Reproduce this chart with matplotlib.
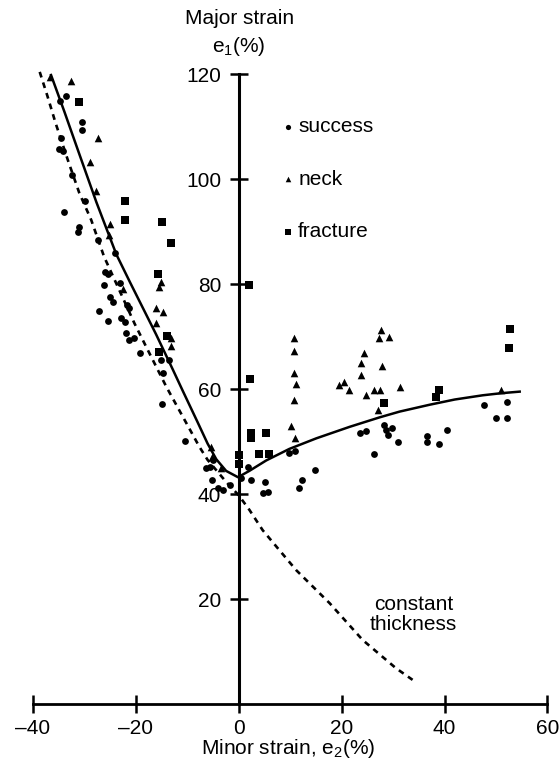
import matplotlib
matplotlib.use("Agg")
import matplotlib.pyplot as plt

plt.rcParams['font.family'] = ['Liberation Sans', 'DejaVu Sans']
plt.rcParams['mathtext.fontset'] = 'custom'
plt.rcParams['mathtext.rm'] = 'Liberation Sans'
plt.rcParams['mathtext.default'] = 'regular'

# ---- data (minor strain e2 %, major strain e1 %) ----
success_x = [-33.5, -34.6, -30.4, -30.4, -34.4, -34.9, -34.1, -32.4, -29.8, -33.8,
             -30.9, -31.2, -27.2, -23.9, -26.0, -25.4, -26.2, -23.1, -24.9, -24.3,
             -21.7, -21.2, -27.0, -25.4, -22.8, -22.1, -21.8, -21.2, -20.2, -19.2,
             -15.0, -13.4, -14.7, -14.9, -10.3, -5.0, -6.3, -5.6, -5.2, -4.0,
             -3.0, -1.7, 1.8, 0.5, 2.5, 5.2, 4.7, 5.7, 9.9, 10.9,
             14.8, 12.4, 11.8, 23.5, 24.8, 28.2, 28.7, 29.8, 29.0, 30.9,
             26.4, 36.6, 36.6, 39.0, 40.5, 47.6, 52.1, 50.0, 52.1]
success_y = [115.9, 114.9, 110.8, 109.3, 107.9, 105.8, 105.4, 100.8, 95.8, 93.8,
             90.9, 90.0, 88.4, 86.0, 82.3, 82.0, 79.9, 80.1, 77.6, 76.6,
             76.0, 75.4, 74.9, 73.0, 73.5, 72.8, 70.6, 69.3, 69.7, 66.9,
             65.5, 65.5, 63.0, 57.1, 50.1, 46.5, 44.9, 45.2, 42.7, 41.1,
             40.8, 41.7, 45.2, 43.0, 42.7, 42.3, 40.1, 40.4, 47.8, 48.1,
             44.6, 42.7, 41.1, 51.7, 52.0, 53.1, 52.2, 52.5, 51.2, 50.0,
             47.6, 51.0, 50.0, 49.5, 52.1, 57.0, 57.5, 54.5, 54.5]

neck_x = [-36.6, -32.5, -27.3, -28.8, -27.6, -25.0, -25.2, -22.4, -15.0, -15.5,
          -16.0, -14.6, -16.0, -13.1, -13.1, -5.3, -5.2, -3.4, 10.7, 10.7,
          10.7, 11.2, 10.7, 10.2, 10.9, 27.7, 27.2, 29.3, 24.3, 23.8,
          23.8, 27.8, 19.5, 20.4, 21.4, 24.8, 26.3, 27.4, 31.3, 27.0, 51.0]
neck_y = [119.4, 118.7, 107.8, 103.2, 97.8, 91.4, 89.3, 79.0, 80.4, 79.5,
          75.5, 74.7, 72.5, 69.7, 68.1, 49.0, 47.1, 44.9, 69.8, 67.3,
          63.0, 60.9, 58.0, 53.0, 50.6, 71.2, 69.7, 70.0, 66.8, 64.9,
          62.7, 64.3, 60.8, 61.4, 59.8, 58.9, 59.9, 59.9, 60.4, 56.0, 59.9]

fracture_x = [-30.9, -22.0, -22.0, -14.8, -13.2, -15.7, -13.9, -15.5, 2.1, 2.3,
              2.5, 2.5, 5.4, 3.9, 5.9, 0.0, 0.0, 28.3, 39.0, 38.4, 52.8, 52.5]
fracture_y = [114.7, 95.8, 92.2, 91.8, 87.9, 81.9, 70.1, 67.1, 79.9, 62.0,
              51.6, 50.6, 51.6, 47.6, 47.6, 47.5, 45.8, 57.4, 59.9, 58.5, 71.4, 67.9]

fld_x = [-36.4, -33.8, -31.0, -27.6, -25.5, -23.7, -21.0, -18.6, -16.0, -12.8,
         -10.8, -8.0, -6.0, -4.3, -2.4, -0.1, 2.1, 5.4, 9.9, 15.1,
         21.6, 27.4, 31.3, 37.1, 42.0, 47.4, 51.0, 54.6]
fld_y = [119.8, 112.8, 105.0, 95.6, 90.2, 85.6, 80.2, 75.5, 70.4, 63.8,
         59.6, 53.8, 49.6, 46.6, 44.4, 43.2, 44.4, 46.4, 48.6, 50.6,
         52.8, 54.6, 55.7, 57.0, 58.0, 58.8, 59.2, 59.5]

const_x = [-38.6, -37.1, -35.5, -33.1, -30.9, -28.6, -26.1, -20.2, -17.6, -14.0,
           -10.8, -7.6, -6.0, -2.4, 0.0, 2.1, 4.7, 7.6, 11.2, 17.7, 24.1, 30.6, 33.8]
const_y = [120.4, 115.8, 110.6, 103.5, 97.3, 92.2, 85.2, 72.5, 67.4, 60.4,
           54.7, 49.0, 46.5, 42.3, 39.8, 37.0, 33.1, 29.7, 25.5, 19.2, 12.2, 6.8, 4.6]

xticks = [-40, -20, 0, 20, 40, 60]
yticks = [20, 40, 60, 80, 100, 120]
legend_labels = ['success', 'neck', 'fracture']
legend_y = [110, 100, 90]

# ---- figure ----
fig = plt.figure(figsize=(5.59, 7.68), dpi=100)
ax = fig.add_axes([0.04893, 0.08333, 0.93971, 0.85449])
ax.set_xlim(-41, 61)
ax.set_ylim(0, 125)

fs = 15
ax.plot(fld_x, fld_y, color='black', lw=1.8, zorder=3, solid_joinstyle='round')
ax.plot(const_x, const_y, color='black', lw=1.9, linestyle=(0, (2.2, 2.0)), zorder=3)

ax.scatter(success_x, success_y, marker='o', s=24, color='black', linewidths=0, zorder=4)
ax.scatter(neck_x, neck_y, marker='^', s=30, color='black', linewidths=0, zorder=4)
ax.scatter(fracture_x, fracture_y, marker='s', s=34, color='black', linewidths=0, zorder=4)

# legend-like annotations
for mk, sz, lab, ly in zip(['o', '^', 's'], [14, 16, 18], legend_labels, legend_y):
    ax.scatter([9.6], [ly], marker=mk, s=sz, color='black', linewidths=0, zorder=4)
    ax.text(11.6, ly, lab, fontsize=fs, va='center', ha='left')

ax.text(34.0, 17.0, 'constant\nthickness', fontsize=fs, ha='center', va='center',
        linespacing=1.05)

# spines
for s in ['top', 'right']:
    ax.spines[s].set_visible(False)
ax.spines['left'].set_position(('data', 0))
ax.spines['bottom'].set_position(('data', 0))
ax.spines['left'].set_bounds(0, 120)
ax.spines['bottom'].set_bounds(-40, 60)
ax.spines['left'].set_linewidth(2.2)
ax.spines['bottom'].set_linewidth(2.0)

ax.set_xticks(xticks)
ax.set_yticks(yticks)
ax.set_xticklabels([('\u2013' + str(abs(t))) if t < 0 else str(t) for t in xticks])
ax.tick_params(axis='both', direction='inout', length=13, width=1.8, labelsize=fs)
ax.tick_params(axis='x', pad=4)
ax.tick_params(axis='y', pad=6)

fig.text(288 / 559, 1 - 748 / 768, 'Minor strain, e$_2$(%)', fontsize=fs,
         ha='center', va='center')
fig.text(240 / 559, 1 - 18 / 768, 'Major strain', fontsize=fs, ha='center', va='center')
fig.text(239 / 559, 1 - 46 / 768, 'e$_1$(%)', fontsize=fs, ha='center', va='center')

fig.savefig('out.png', dpi=100)
